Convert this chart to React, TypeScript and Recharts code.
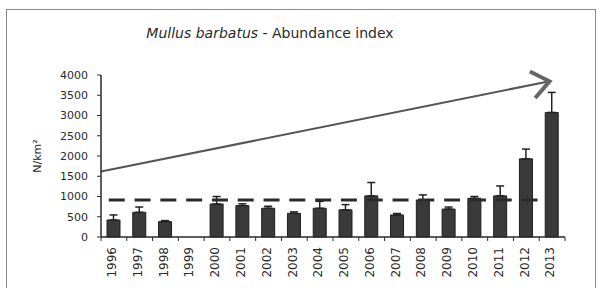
// Mullus barbatus abundance index — yearly bars with upper error bars,
// a dashed mean level and a trend arrow drawn over a hidden numeric axis.

import React from "react";
import { BarChart, Bar, XAxis, YAxis, ErrorBar, ReferenceLine } from "recharts";

const YEARS = [
  "1996", "1997", "1998", "1999", "2000", "2001", "2002", "2003", "2004",
  "2005", "2006", "2007", "2008", "2009", "2010", "2011", "2012", "2013",
];
// N/km² per year (1999 not sampled)
const ABUNDANCE = [
  420, 610, 380, null, 815, 775, 710, 585, 710,
  670, 1015, 545, 915, 690, 955, 1015, 1930, 3075,
];
// upper error (only the top whisker is drawn)
const ERROR_UP = [
  125, 130, 25, null, 185, 45, 50, 35, 170,
  130, 330, 35, 125, 50, 45, 245, 240, 495,
];
const Y_TICKS = [0, 500, 1000, 1500, 2000, 2500, 3000, 3500, 4000];

// dashed mean level and trend arrow, in "category units" along the x axis
const MEAN_VALUE = 915;
const MEAN_SPAN = [0.3, 17.1];
const TREND_START = { x: 0, y: 1615 };
const TREND_END = { x: 17.4, y: 3845 };

const W = 602;
const H = 288;
const MARGIN = { top: 75, right: 37, left: 0, bottom: 0 };
const Y_AXIS_W = 101;
const X_AXIS_H = 51;
const BAND = (W - MARGIN.left - MARGIN.right - Y_AXIS_W) / YEARS.length;

const FONT = "'DejaVu Sans', Verdana, sans-serif";
const INK = "#2a2a2a";

const data = YEARS.map((year, i) => ({
  year,
  value: ABUNDANCE[i],
  err: ERROR_UP[i] == null ? null : [0, ERROR_UP[i]],
  pos: i + 0.5,
}));

// rotated year label + tick marks at the category boundaries
function YearTick(props: any) {
  const { x, y, payload, index } = props;
  const half = BAND / 2;
  return (
    <g>
      <line x1={x - half} y1={y} x2={x - half} y2={y + 4} stroke={INK} strokeWidth={1} />
      {index === YEARS.length - 1 && (
        <line x1={x + half} y1={y} x2={x + half} y2={y + 4} stroke={INK} strokeWidth={1} />
      )}
      <text
        x={x - 2}
        y={y + 10}
        dy="0.35em"
        transform={`rotate(-90, ${x - 2}, ${y + 10})`}
        textAnchor="end"
        fontSize={12}
        fontFamily={FONT}
        fill={INK}
      >
        {payload.value}
      </text>
    </g>
  );
}

// trend line with an open chevron head
function TrendArrow(props: any) {
  const { x1, y1, x2, y2 } = props;
  if ([x1, y1, x2, y2].some((v) => typeof v !== "number" || isNaN(v))) return null;
  const len = Math.hypot(x2 - x1, y2 - y1);
  const ux = (x1 - x2) / len;
  const uy = (y1 - y2) / len;
  const arm = 22;
  const a = (38 * Math.PI) / 180;
  const rot = (s: number) => ({
    x: x2 + arm * (ux * Math.cos(s * a) - uy * Math.sin(s * a)),
    y: y2 + arm * (ux * Math.sin(s * a) + uy * Math.cos(s * a)),
  });
  const p1 = rot(1);
  const p2 = rot(-1);
  return (
    <g>
      <line x1={x1} y1={y1} x2={x2} y2={y2} stroke="#555" strokeWidth={2} />
      <polyline
        points={`${p1.x},${p1.y} ${x2},${y2} ${p2.x},${p2.y}`}
        fill="none"
        stroke="#666"
        strokeWidth={4}
        strokeLinejoin="miter"
      />
    </g>
  );
}

function YLabel(props: any) {
  const vb = props.viewBox || { x: 0, y: MARGIN.top, height: 162 };
  const cx = vb.x + 37;
  const cy = vb.y + vb.height / 2;
  return (
    <text
      x={cx}
      y={cy}
      dy="0.35em"
      transform={`rotate(-90, ${cx}, ${cy})`}
      textAnchor="middle"
      fontSize={11}
      fontFamily={FONT}
      fill={INK}
    >
      N/km²
    </text>
  );
}

export default function App() {
  return (
    <div
      style={{
        position: "absolute",
        left: 0,
        top: 0,
        width: W,
        height: H,
        background: "#fff",
        overflow: "hidden",
      }}
    >
      <div
        style={{
          position: "absolute",
          left: 6,
          top: 9,
          width: 588,
          height: 280,
          border: "1.5px solid #8a8a8a",
        }}
      />
      <div
        style={{
          position: "absolute",
          left: 0,
          top: 25,
          width: 540,
          textAlign: "center",
          fontFamily: FONT,
          fontSize: 14,
          lineHeight: "16px",
          color: INK,
        }}
      >
        <i>Mullus barbatus</i> - Abundance index
      </div>
      <div style={{ position: "absolute", left: 0, top: 0 }}>
        <BarChart width={W} height={H} data={data} margin={MARGIN} barSize={13}>
          <XAxis
            dataKey="year"
            height={X_AXIS_H}
            interval={0}
            tickLine={false}
            tickSize={0}
            tickMargin={0}
            axisLine={{ stroke: INK, strokeWidth: 1.5 }}
            tick={<YearTick />}
          />
          <XAxis
            xAxisId="n"
            dataKey="pos"
            type="number"
            domain={[0, YEARS.length]}
            allowDataOverflow
            hide
          />
          <YAxis
            width={Y_AXIS_W}
            domain={[0, 4000]}
            ticks={Y_TICKS}
            interval={0}
            tickSize={4}
            tickMargin={9}
            tickLine={{ stroke: INK }}
            axisLine={{ stroke: INK, strokeWidth: 1.5 }}
            tick={{ fontSize: 11, fontFamily: FONT, fill: INK }}
            label={<YLabel />}
          />
          <Bar dataKey="value" fill="#3a3a3a" stroke="#1e1e1e" strokeWidth={1} isAnimationActive={false}>
            <ErrorBar dataKey="err" width={4} stroke="#222" strokeWidth={1.5} direction="y" />
          </Bar>
          <ReferenceLine
            xAxisId="n"
            segment={[
              { x: MEAN_SPAN[0], y: MEAN_VALUE },
              { x: MEAN_SPAN[1], y: MEAN_VALUE },
            ]}
            stroke="#2a2a2a"
            strokeWidth={3}
            strokeDasharray="16 9.8"
            ifOverflow="visible"
          />
          <ReferenceLine
            xAxisId="n"
            segment={[TREND_START, TREND_END]}
            ifOverflow="visible"
            shape={<TrendArrow />}
          />
        </BarChart>
      </div>
    </div>
  );
}
